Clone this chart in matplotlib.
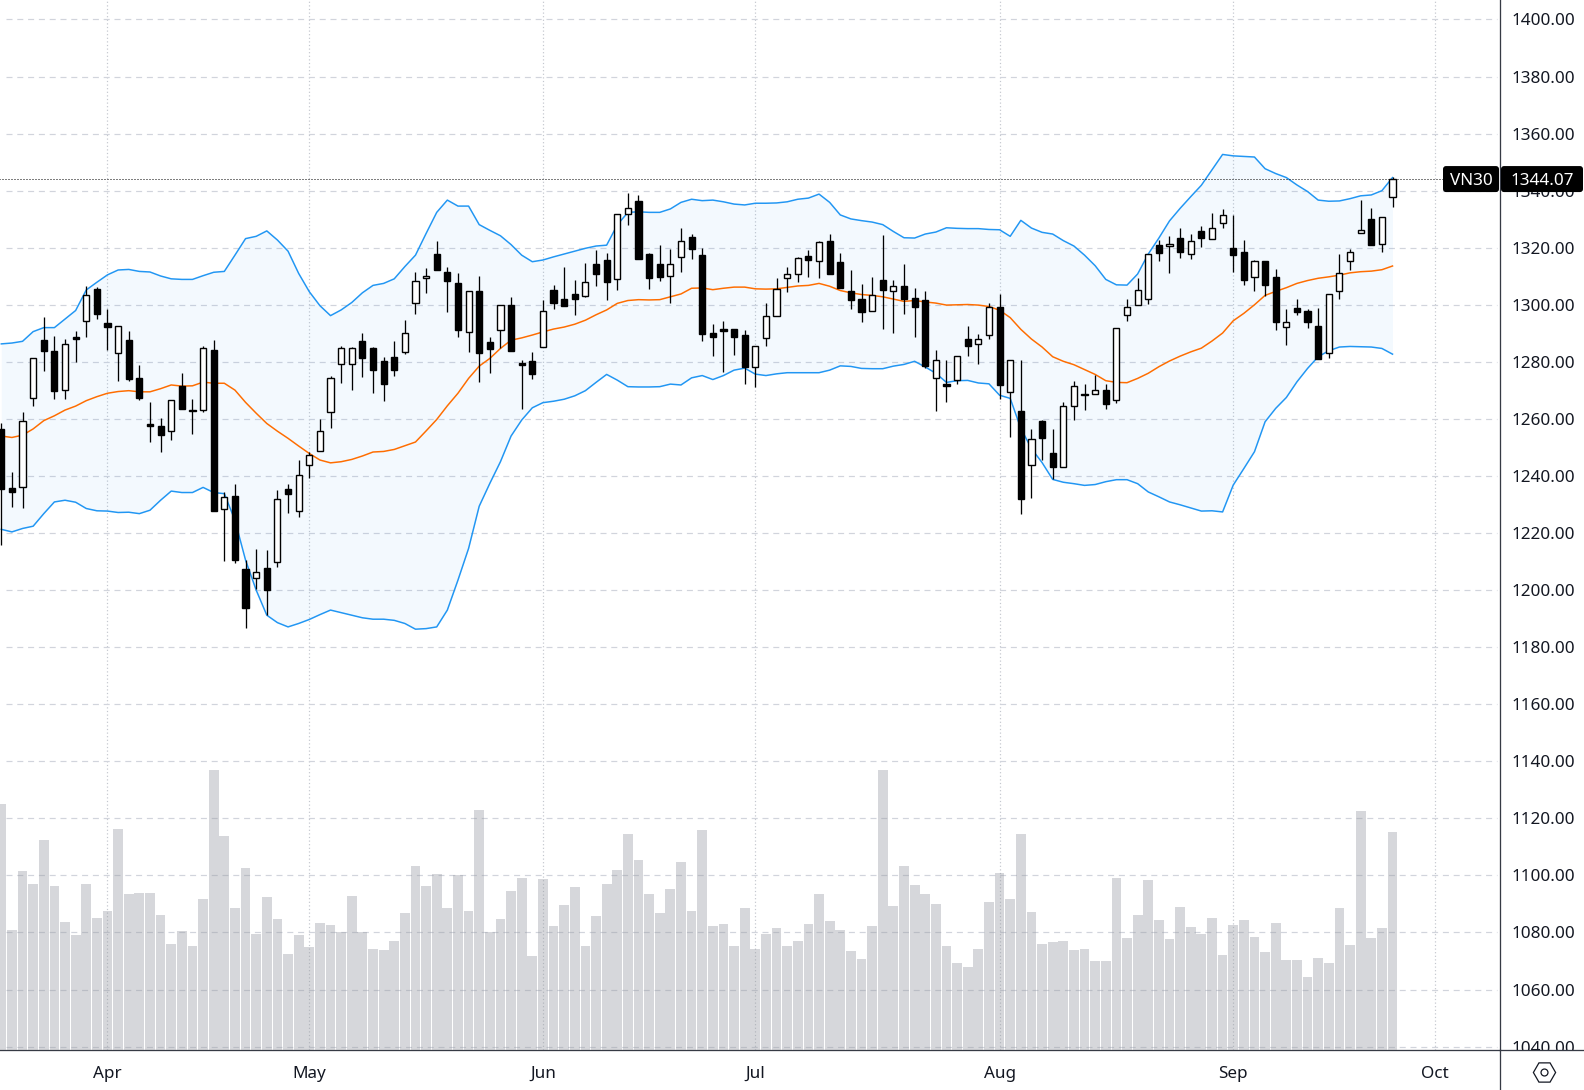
import numpy as np
import matplotlib
matplotlib.use('Agg')
import matplotlib.pyplot as plt
from matplotlib.patches import FancyBboxPatch
from matplotlib.transforms import IdentityTransform

plt.rcParams['font.family'] = ['Noto Sans', 'DejaVu Sans']

# prezzi VN30, una candela per seduta
opens = [1256.3,1235.7,1236.2,1267.2,1287.6,1283.8,1270.0,1288.7,1294.2,1305.5,
         1293.6,1283.0,1287.6,1274.3,1258.2,1257.5,1255.8,1271.5,1263.1,1263.0,
         1284.1,1228.3,1232.9,1207.3,1204.4,1207.7,1209.9,1235.4,1227.6,1244.0,
         1248.6,1262.3,1279.1,1279.1,1287.3,1284.8,1280.3,1281.7,1283.5,1300.5,
         1309.3,1317.8,1311.5,1307.6,1290.3,1304.8,1286.9,1291.0,1299.9,1279.6,
         1280.3,1285.1,1305.2,1302.0,1303.8,1303.2,1314.3,1315.7,1308.9,1331.7,
         1336.4,1317.8,1314.3,1310.0,1316.6,1323.8,1317.4,1290.1,1291.5,1291.5,
         1289.4,1278.1,1288.2,1296.0,1309.3,1310.7,1317.1,1315.2,1322.3,1315.0,
         1304.8,1302.0,1298.0,1308.7,1305.0,1306.6,1302.4,1301.7,1274.5,1272.2,
         1273.5,1288.0,1286.1,1289.3,1299.2,1269.6,1262.7,1243.7,1259.2,1248.0,
         1243.3,1264.7,1268.9,1268.6,1270.1,1266.8,1296.6,1300.1,1302.2,1320.9,
         1320.5,1323.3,1317.7,1325.9,1323.0,1328.5,1319.9,1318.5,1309.6,1315.3,
         1309.7,1292.1,1298.9,1297.7,1292.5,1283.0,1304.7,1315.2,1325.0,1330.1,1321.2,1337.7]
closes = [1235.5,1234.4,1259.1,1281.5,1283.9,1269.9,1286.1,1288.1,1303.3,1296.9,
          1292.3,1292.4,1274.1,1267.4,1257.6,1254.4,1266.8,1263.5,1262.9,1284.7,
          1227.8,1232.8,1210.6,1193.8,1206.5,1200.1,1232.1,1233.8,1240.5,1247.2,
          1255.6,1274.5,1284.7,1284.7,1281.4,1277.2,1272.3,1277.2,1290.0,1308.2,
          1310.0,1312.3,1308.4,1291.3,1304.7,1283.2,1284.6,1299.8,1283.9,1279.0,
          1275.8,1297.7,1300.7,1299.7,1302.1,1307.9,1310.9,1308.1,1331.7,1333.8,
          1316.2,1309.5,1309.8,1314.2,1322.2,1319.7,1289.9,1288.8,1290.9,1288.8,
          1278.2,1285.4,1296.0,1305.4,1310.7,1316.3,1315.8,1321.9,1310.9,1306.0,
          1301.8,1297.6,1303.3,1305.3,1306.5,1302.1,1299.3,1278.5,1280.5,1271.6,
          1281.9,1285.7,1287.9,1299.2,1272.0,1280.8,1232.0,1252.8,1253.4,1243.2,
          1264.7,1271.4,1268.5,1270.3,1265.3,1291.7,1299.1,1305.1,1317.7,1318.3,
          1321.2,1318.6,1322.2,1323.5,1326.8,1331.4,1317.6,1308.8,1315.2,1307.0,
          1294.1,1293.8,1297.6,1294.1,1281.1,1303.7,1311.0,1318.4,1326.1,1321.1,1330.7,1344.07]
highs = [1258.4,1241.3,1262.4,1281.5,1295.7,1289.0,1288.0,1290.8,1306.6,1306.2,
         1298.5,1292.4,1290.8,1278.9,1265.9,1260.3,1266.8,1276.1,1266.9,1285.4,
         1287.6,1234.3,1237.1,1210.5,1214.3,1214.0,1235.0,1237.1,1245.5,1248.4,
         1259.9,1275.0,1285.5,1285.1,1290.1,1285.2,1281.7,1287.3,1294.6,1311.5,
         1312.9,1322.3,1313.2,1311.1,1304.7,1310.1,1288.7,1299.8,1302.7,1280.6,
         1283.4,1301.7,1306.9,1313.2,1308.7,1314.6,1319.2,1318.1,1331.7,1339.2,
         1338.5,1318.1,1320.9,1319.5,1326.9,1324.8,1319.9,1293.2,1294.3,1291.5,
         1291.2,1285.4,1300.6,1309.4,1313.2,1316.8,1319.2,1322.3,1324.8,1318.1,
         1312.2,1307.3,1309.7,1324.5,1308.7,1314.3,1305.9,1304.8,1284.1,1280.6,
         1281.9,1292.5,1289.7,1300.8,1303.8,1280.8,1280.8,1256.4,1259.6,1256.4,
         1265.9,1273.3,1272.2,1275.4,1272.2,1291.7,1302.0,1309.4,1317.7,1322.7,
         1324.1,1326.9,1324.8,1327.6,1332.2,1333.6,1331.5,1322.7,1315.7,1315.3,
         1312.5,1298.5,1302.0,1298.5,1298.9,1303.7,1317.8,1319.5,1336.7,1333.9,1330.7,1344.8]
lows = [1215.7,1229.2,1228.8,1264.6,1276.9,1267.1,1267.1,1279.9,1288.8,1295.0,
        1284.1,1273.4,1273.4,1266.7,1251.9,1248.4,1252.7,1263.5,1254.8,1262.5,
        1227.8,1210.3,1209.6,1186.8,1200.4,1191.4,1208.2,1227.1,1225.7,1239.4,
        1248.6,1256.9,1272.7,1270.2,1274.8,1269.2,1266.4,1275.1,1282.8,1296.9,
        1304.1,1312.3,1297.6,1288.8,1283.5,1273.0,1276.2,1284.7,1283.9,1263.5,
        1274.1,1285.1,1298.6,1299.7,1296.5,1302.8,1306.7,1301.8,1305.3,1328.1,
        1316.2,1305.6,1308.4,1300.7,1311.6,1316.2,1287.4,1282.2,1276.4,1282.5,
        1272.3,1271.3,1285.6,1296.0,1304.6,1308.1,1309.8,1309.5,1310.9,1306.0,
        1298.6,1294.1,1298.0,1291.6,1290.2,1296.9,1288.8,1277.7,1262.9,1266.0,
        1272.3,1282.2,1279.3,1288.1,1267.0,1253.7,1226.7,1232.3,1245.6,1238.8,
        1243.3,1259.7,1263.2,1268.6,1263.5,1265.7,1294.4,1300.1,1300.3,1315.5,
        1311.2,1316.5,1316.2,1320.4,1323.0,1327.0,1311.6,1307.0,1304.9,1303.2,
        1291.3,1286.0,1296.4,1291.8,1281.1,1281.4,1302.1,1312.3,1325.0,1321.1,1318.6,1334.4]

# bande di Bollinger
bb_upper = [1286.3,1286.6,1287.2,1290.6,1292.0,1292.0,1295.0,1298.0,1305.2,1307.9,
            1310.5,1312.2,1312.4,1311.7,1311.5,1310.1,1309.1,1308.9,1308.9,1310.2,
            1311.4,1311.7,1317.4,1323.2,1324.0,1325.9,1322.7,1318.8,1311.0,1304.6,
            1299.7,1296.2,1298.2,1300.8,1304.2,1306.8,1307.5,1309.1,1313.4,1317.4,
            1325.0,1332.4,1336.7,1334.6,1334.6,1328.1,1326.1,1324.2,1321.1,1317.4,
            1315.1,1315.7,1316.8,1317.8,1318.8,1319.8,1320.6,1320.9,1328.0,1332.4,
            1332.6,1332.4,1332.4,1333.6,1335.9,1337.0,1336.5,1336.7,1336.1,1335.3,
            1335.0,1335.6,1335.6,1335.7,1336.1,1337.0,1337.4,1338.8,1335.9,1331.5,
            1330.1,1329.5,1329.0,1328.1,1325.7,1323.5,1323.4,1324.8,1325.5,1327.0,
            1326.8,1326.7,1326.7,1326.4,1326.3,1324.0,1329.6,1326.9,1325.4,1324.8,
            1322.5,1320.6,1317.4,1313.7,1308.9,1307.0,1306.9,1310.8,1317.8,1323.4,
            1329.4,1333.8,1337.9,1341.9,1347.3,1352.7,1352.2,1352.0,1351.8,1347.7,
            1346.0,1344.6,1342.0,1339.7,1336.7,1336.3,1336.4,1337.2,1338.2,1338.5,1340.0,1344.6]
bb_middle = [1254.0,1253.5,1254.3,1256.5,1259.4,1261.1,1263.1,1264.5,1266.4,1267.8,
             1269.0,1269.6,1269.9,1269.5,1269.5,1270.6,1271.9,1271.5,1271.6,1272.9,
             1272.5,1272.5,1270.1,1265.8,1262.0,1258.4,1255.7,1253.2,1250.5,1247.9,
             1245.6,1244.6,1245.0,1245.8,1247.0,1248.4,1248.6,1249.3,1250.6,1251.9,
             1255.8,1259.8,1264.6,1269.0,1274.2,1278.5,1281.2,1284.7,1287.6,1288.4,
             1289.4,1290.5,1291.5,1292.2,1293.2,1294.6,1296.5,1298.2,1300.5,1301.5,
             1301.8,1301.7,1301.8,1302.8,1303.8,1305.8,1305.9,1305.3,1305.8,1306.2,
             1306.2,1305.6,1305.5,1305.6,1306.1,1306.6,1306.8,1307.5,1306.5,1305.0,
             1304.2,1303.6,1303.3,1302.8,1302.0,1301.2,1301.5,1301.0,1300.6,1299.9,
             1300.0,1300.1,1299.9,1299.4,1298.1,1295.5,1291.4,1288.0,1285.2,1281.8,
             1280.2,1279.0,1277.3,1275.6,1273.4,1272.8,1272.7,1274.2,1276.0,1278.3,
             1280.3,1282.0,1283.5,1284.8,1287.3,1290.1,1294.4,1297.0,1300.0,1303.3,
             1304.7,1306.0,1307.5,1308.5,1309.3,1309.8,1310.4,1311.2,1311.6,1311.8,1312.3,1313.6]
bb_lower = [1221.3,1220.4,1221.6,1222.4,1226.8,1230.9,1231.5,1230.8,1228.6,1227.8,
            1227.7,1227.2,1227.3,1226.8,1228.0,1231.5,1234.7,1234.2,1234.2,1236.0,
            1234.2,1233.8,1224.5,1210.5,1200.0,1191.2,1188.6,1187.1,1188.3,1189.7,
            1191.4,1193.0,1192.1,1191.2,1190.3,1189.8,1189.8,1189.4,1188.3,1186.3,
            1186.5,1187.1,1193.0,1203.5,1214.6,1229.4,1237.4,1245.0,1254.0,1259.6,
            1263.9,1265.7,1266.2,1266.9,1268.1,1269.9,1272.8,1275.6,1273.6,1271.3,
            1271.2,1271.2,1271.3,1272.2,1271.9,1274.4,1275.2,1273.8,1275.2,1277.1,
            1277.8,1275.7,1275.2,1275.8,1276.2,1276.2,1276.2,1276.2,1277.1,1278.6,
            1278.4,1277.7,1277.6,1277.6,1278.5,1279.1,1280.2,1278.2,1276.0,1272.8,
            1273.4,1273.5,1272.6,1272.3,1268.3,1267.2,1256.7,1249.6,1244.7,1238.8,
            1237.8,1237.3,1236.7,1237.0,1238.0,1238.7,1238.7,1237.3,1234.4,1232.7,
            1230.9,1229.9,1228.8,1227.7,1227.8,1227.4,1236.8,1242.6,1248.5,1259.0,
            1263.7,1267.5,1273.0,1277.7,1281.8,1283.9,1285.2,1285.4,1285.3,1285.2,1284.7,1282.7]

# volumi, scala relativa (massimo = 100)
volumes = [87.9,42.9,63.9,59.3,75.0,58.6,45.7,41.1,59.3,47.1,
           49.6,78.9,55.7,56.1,56.1,48.2,37.9,42.5,37.1,53.9,
           100.0,76.4,50.7,65.0,41.4,54.6,46.8,34.3,41.1,36.8,
           45.4,44.6,42.1,55.0,42.1,36.1,35.7,38.9,48.9,65.7,
           58.6,62.9,50.7,62.5,49.6,85.7,42.1,46.8,56.8,61.4,
           33.6,61.1,44.3,51.8,58.2,37.1,47.9,59.3,64.3,77.1,
           67.9,55.7,48.9,57.5,67.1,49.6,78.6,44.3,45.0,37.1,
           50.7,36.1,41.4,43.6,37.1,38.9,45.0,55.7,46.1,42.9,
           35.4,32.5,44.3,100.0,51.4,65.7,58.9,55.7,52.1,37.1,
           31.1,29.6,36.1,52.9,63.2,53.9,77.1,49.3,37.9,38.6,
           38.9,35.7,36.1,31.8,31.8,61.4,40.0,48.2,60.7,46.4,
           39.6,51.1,43.9,41.4,47.1,33.9,44.6,46.4,40.4,35.0,
           45.4,32.1,32.1,26.0,32.9,31.1,50.7,37.5,85.4,40.0,43.6,77.9]

month_pos = [10, 29, 51, 71, 94, 116, 135]
month_labels = ['Apr', 'May', 'Jun', 'Jul', 'Aug', 'Sep', 'Oct']
price_ticks = list(range(1040, 1401, 20))
last_price = 1344.07
symbol = 'VN30'

W, H = 1584, 1090
AXIS_X = 1500.3   # px, asse dei prezzi
AXIS_Y = 1050     # px, asse del tempo
STEP = 10.62      # px per candela
X0 = 1.3
PX = 72 / 100     # un pixel in punti

BLUE = '#2196F3'
ORANGE = '#FF6D00'
LINE = '#363A45'
TEXT = '#131722'

fig = plt.figure(figsize=(W / 100, H / 100), dpi=100, facecolor='white')
ax = fig.add_axes([0, (H - AXIS_Y) / H, AXIS_X / W, AXIS_Y / H])
ax.set_xlim((0 - X0) / STEP, (AXIS_X - X0) / STEP)
ax.set_ylim(1400 - (AXIS_Y - 19.5) / 2.853, 1400 + 19.5 / 2.853)

for s in ['top', 'left']:
    ax.spines[s].set_visible(False)
for s in ['right', 'bottom']:
    ax.spines[s].set_color(LINE)
    ax.spines[s].set_linewidth(1.3 * PX)

# griglia
ax.set_axisbelow(True)
for m in month_pos:
    ax.axvline(m, color='#C4C7CE', lw=1.2 * PX, ls=(0, (1, 2)), zorder=0.5)
for p in price_ticks:
    ax.plot([0.4, 140.8], [p, p], color='#D1D4DC', lw=1.2 * PX, ls=(0, (5, 4)), zorder=0.6)

x = np.arange(len(opens))
o = np.array(opens)
c = np.array(closes)
hi = np.array(highs)
lo = np.array(lows)
up = c >= o

# bande
ax.fill_between(x, bb_lower, bb_upper, color=BLUE, alpha=0.05, lw=0, zorder=1)
ax.plot(x, bb_upper, color=BLUE, lw=1.5 * PX, zorder=2)
ax.plot(x, bb_lower, color=BLUE, lw=1.5 * PX, zorder=2)
ax.plot(x, bb_middle, color=ORANGE, lw=1.5 * PX, zorder=2)

# candele
ax.vlines(x, lo, hi, color='black', lw=1.3 * PX, zorder=3)
ax.bar(x[up], (c - o)[up], bottom=o[up], width=0.58, facecolor='white',
       edgecolor='black', lw=1.4 * PX, zorder=4)
ax.bar(x[~up], (o - c)[~up], bottom=c[~up], width=0.58, facecolor='black',
       edgecolor='black', lw=1.4 * PX, zorder=4)

# linea ultimo prezzo
ax.plot([-0.2, (1443 - X0) / STEP], [last_price, last_price], color='black',
        lw=PX, ls=(0, (1, 2)), zorder=5)

# volumi su scala propria
ax_vol = ax.twinx()
ax_vol.set_ylim(0, 100 * AXIS_Y / 280)
ax_vol.bar(x, volumes, width=0.92, color='#9598A1', alpha=0.38, lw=0)
ax_vol.set_yticks([])
for s in ax_vol.spines.values():
    s.set_visible(False)

# assi (twinx riporta i tick a sinistra)
ax.yaxis.tick_right()
ax.set_yticks(price_ticks)
ax.set_yticklabels(['%.2f' % p for p in price_ticks], color=TEXT, fontsize=12.3, ha='center')
ax.tick_params(axis='y', length=0, pad=31)
ax.set_xticks(month_pos)
ax.set_xticklabels(month_labels, color=TEXT, fontsize=12.3, va='center')
ax.tick_params(axis='x', length=0, pad=17.5)

# etichette sull'asse
tr = ax.get_yaxis_transform()
y_px = ax.transData.transform((0, last_price))[1]
for left, right, label in [(1443, 1499, symbol), (1501, 1583, '%.2f' % last_price)]:
    box = FancyBboxPatch((left, y_px - 13), right - left, 26,
                         boxstyle='round,pad=0,rounding_size=3', fc='black', ec='none',
                         transform=IdentityTransform(), clip_on=False, zorder=9)
    ax.add_patch(box)
    ax.text((left + right) / 2 / AXIS_X, last_price, label, transform=tr, color='white',
            fontsize=12.3, ha='center', va='center_baseline', zorder=10)

# angolo con l'icona delle impostazioni
corner = fig.add_axes([AXIS_X / W, 0, (W - AXIS_X) / W, (H - AXIS_Y) / H], zorder=3)
corner.set_xlim(0, 1)
corner.set_ylim(0, 1)
corner.set_xticks([])
corner.set_yticks([])
for s in ['right', 'bottom']:
    corner.spines[s].set_visible(False)
for s in ['top', 'left']:
    corner.spines[s].set_color(LINE)
    corner.spines[s].set_linewidth(1.3 * PX)
corner.plot([0.52], [0.46], marker='H', ms=16, mfc='none', mec=TEXT, mew=0.9)
corner.plot([0.52], [0.46], marker='o', ms=5, mfc='none', mec=TEXT, mew=0.9)

fig.savefig('out.png', dpi=100)
